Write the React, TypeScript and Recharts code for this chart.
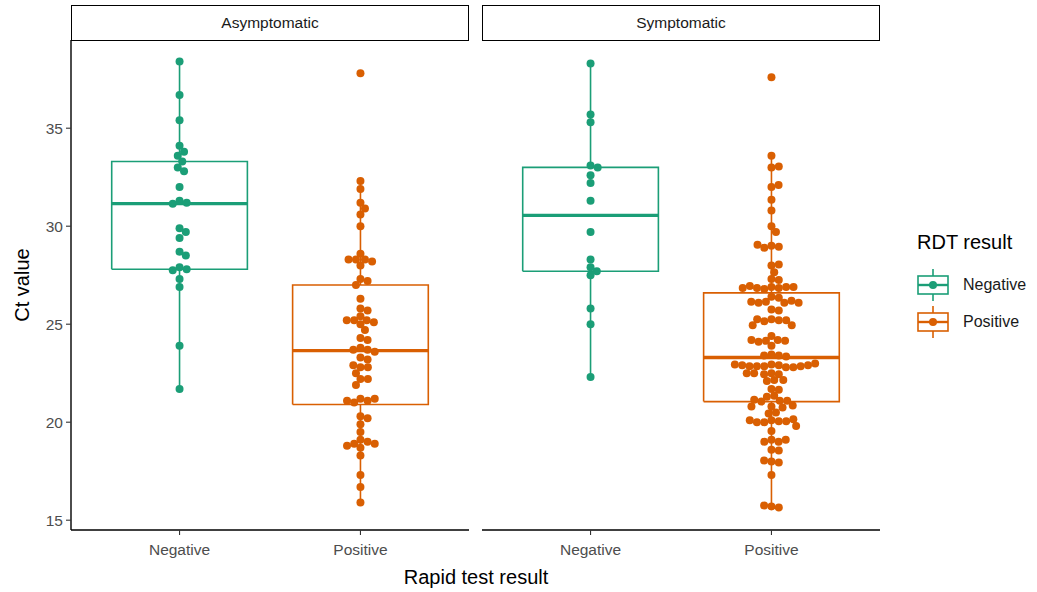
import { ScatterChart, Scatter, XAxis, YAxis } from "recharts";

const FONT = '"Liberation Sans", Arial, sans-serif';
const GREEN = "#1B9E77";
const ORANGE = "#D95F02";

const CATEGORIES = ["Negative", "Positive"];
const FACETS = ["Asymptomatic", "Symptomatic"];
const Y_TICKS = [15, 20, 25, 30, 35];

// Ct values
const asymNegative = [
  38.4, 36.7, 35.4, 34.1, 33.8, 33.6, 33.3, 33.0, 32.8, 32.0, 31.3, 31.2, 31.15,
  29.9, 29.7, 29.4, 28.7, 28.5, 27.9, 27.8, 27.75, 27.3, 26.9, 23.9, 21.7,
];
const asymPositive = [
  37.8, 32.3, 31.9, 31.2, 30.9, 30.6, 30.0, 28.6, 28.3, 28.3, 28.2, 28.3, 28.0,
  27.3, 27.2, 27.0, 26.3, 25.8, 25.7, 25.4, 25.2, 25.2, 25.1, 25.2, 25.0, 24.7,
  24.3, 24.2, 23.8, 23.7, 23.7, 23.6, 23.3, 23.2, 22.8, 22.8, 22.9, 22.5, 22.2,
  22.2, 21.9, 21.2, 21.1, 21.0, 21.1, 21.2, 20.3, 20.2, 19.9, 19.5, 19.1, 19.0,
  18.9, 18.8, 18.7, 18.9, 18.3, 17.3, 16.7, 15.9,
];
const symNegative = [
  38.3, 35.7, 35.3, 33.1, 33.0, 32.6, 32.2, 31.3, 29.7, 28.3, 27.9, 27.7, 27.5,
  25.8, 25.0, 22.3,
];
const symPositive = [
  37.6, 33.6, 33.0, 33.05, 32.0, 32.1, 31.35, 30.8, 30.0, 29.7, 29.0, 28.95,
  28.9, 29.05, 28.0, 28.05, 27.65, 27.3, 27.25, 26.9, 26.85, 26.8, 26.85, 26.9,
  26.95, 26.9, 26.85, 26.4, 26.35, 26.15, 26.1, 26.1, 26.15, 26.2, 26.1, 25.75,
  25.7, 25.25, 25.2, 25.15, 25.25, 25.2, 24.95, 24.95, 24.4, 24.2, 24.15, 24.1,
  24.15, 24.2, 23.9, 23.45, 23.4, 23.4, 23.35, 22.95, 22.9, 22.85, 22.85, 22.8,
  22.8, 22.85, 22.85, 22.9, 22.9, 22.95, 23.0, 22.5, 22.45, 22.45, 22.5, 22.5,
  22.15, 22.1, 22.15, 21.7, 21.65, 21.35, 21.3, 21.1, 21.05, 21.1, 21.15, 20.8,
  20.75, 20.8, 20.85, 20.5, 20.45, 20.1, 20.05, 20.0, 20.0, 20.05, 20.1, 20.15,
  19.8, 19.55, 19.1, 19.0, 19.0, 19.1, 18.6, 18.55, 18.0, 17.95, 18.05, 17.3,
  15.7, 15.65, 15.75,
];

// box stats per category (Negative, Positive)
const asymLower = [21.7, 15.9];
const asymQ1 = [27.8, 20.9];
const asymMedian = [31.15, 23.65];
const asymQ3 = [33.3, 27.0];
const asymUpper = [38.4, 32.3];
const symLower = [22.3, 15.7];
const symQ1 = [27.7, 21.05];
const symMedian = [30.55, 23.3];
const symQ3 = [33.0, 26.6];
const symUpper = [38.3, 33.6];

const X_DOMAIN = [0.4, 2.6];
const Y_DOMAIN = [14.5, 39.5];
const PLOT_W = 398;
const PLOT_H = 490;
const PX_X = PLOT_W / (X_DOMAIN[1] - X_DOMAIN[0]);
const PX_Y = PLOT_H / (Y_DOMAIN[1] - Y_DOMAIN[0]);
const DOT = 7.4;

function swarm(values: number[]) {
  const placed: { x: number; y: number }[] = [];
  return values.map((v) => {
    const y = v * PX_Y;
    const cands = [0];
    placed.forEach((p) => {
      const dy = Math.abs(p.y - y);
      if (dy < DOT) {
        const dx = Math.sqrt(DOT * DOT - dy * dy);
        cands.push(p.x + dx, p.x - dx);
      }
    });
    const ok = cands
      .filter((c) => placed.every((p) => Math.hypot(p.x - c, p.y - y) >= DOT - 1e-6))
      .sort((a, b) => Math.abs(a) - Math.abs(b));
    const x = ok[0] ?? 0;
    placed.push({ x, y });
    return x / PX_X;
  });
}

const noDot = () => <g />;

function boxParts(i: number, lo: number, q1: number, med: number, q3: number, hi: number, color: string) {
  const c = i + 1;
  const h = 0.375;
  return [
    <Scatter key={`wl${i}`} data={[{ x: c, y: lo }, { x: c, y: q1 }]} line={{ stroke: color, strokeWidth: 1.6 }} shape={noDot} isAnimationActive={false} />,
    <Scatter key={`wh${i}`} data={[{ x: c, y: q3 }, { x: c, y: hi }]} line={{ stroke: color, strokeWidth: 1.6 }} shape={noDot} isAnimationActive={false} />,
    <Scatter
      key={`b${i}`}
      data={[
        { x: c - h, y: q1 },
        { x: c + h, y: q1 },
        { x: c + h, y: q3 },
        { x: c - h, y: q3 },
        { x: c - h, y: q1 },
      ]}
      line={{ stroke: color, strokeWidth: 1.6 }}
      shape={noDot}
      isAnimationActive={false}
    />,
    <Scatter key={`m${i}`} data={[{ x: c - h, y: med }, { x: c + h, y: med }]} line={{ stroke: color, strokeWidth: 3.4 }} shape={noDot} isAnimationActive={false} />,
  ];
}

function Facet({
  left,
  showY,
  groups,
  lower,
  q1,
  median,
  q3,
  upper,
}: {
  left: number;
  showY: boolean;
  groups: number[][];
  lower: number[];
  q1: number[];
  median: number[];
  q3: number[];
  upper: number[];
}) {
  const colors = [GREEN, ORANGE];
  const yw = showY ? 71 : 0;
  return (
    <div style={{ position: "absolute", left: left - yw, top: 0 }}>
      <ScatterChart width={PLOT_W + yw + 1} height={570} margin={{ top: 40, right: 1, bottom: 0, left: 0 }}>
        <XAxis
          type="number"
          dataKey="x"
          domain={X_DOMAIN}
          ticks={[1, 2]}
          allowDataOverflow
          tickFormatter={(v: number) => CATEGORIES[v - 1]}
          height={40}
          axisLine={{ stroke: "#000", strokeWidth: 1.4 }}
          tickLine={{ stroke: "#333", strokeWidth: 1.1 }}
          tickSize={5}
          tickMargin={9}
          tick={{ fill: "#4D4D4D", fontSize: 15.5, fontFamily: FONT }}
        />
        <YAxis
          type="number"
          dataKey="y"
          domain={Y_DOMAIN}
          ticks={Y_TICKS}
          allowDataOverflow
          hide={!showY}
          width={yw}
          axisLine={{ stroke: "#000", strokeWidth: 1.4 }}
          tickLine={{ stroke: "#333", strokeWidth: 1.1 }}
          tickSize={5}
          tickMargin={3}
          tick={{ fill: "#4D4D4D", fontSize: 15.5, fontFamily: FONT }}
        />
        {groups.map((_, i) => boxParts(i, lower[i], q1[i], median[i], q3[i], upper[i], colors[i]))}
        {groups.map((vals, i) => {
          const off = swarm(vals);
          return (
            <Scatter
              key={`p${i}`}
              data={vals.map((v, k) => ({ x: i + 1 + off[k], y: v }))}
              shape={(p: any) => <circle cx={p.cx} cy={p.cy} r={4} fill={colors[i]} />}
              isAnimationActive={false}
            />
          );
        })}
      </ScatterChart>
    </div>
  );
}

function Strip({ left, label }: { left: number; label: string }) {
  return (
    <div
      style={{
        position: "absolute",
        left,
        top: 5,
        width: PLOT_W,
        height: 36,
        boxSizing: "border-box",
        border: "1.6px solid #000",
        background: "#fff",
        display: "flex",
        alignItems: "center",
        justifyContent: "center",
        fontSize: 15.5,
        color: "#1a1a1a",
      }}
    >
      {label}
    </div>
  );
}

function LegendKey({ color, label, top }: { color: string; label: string; top: number }) {
  return (
    <div style={{ position: "absolute", left: 916, top, display: "flex", alignItems: "center" }}>
      <svg width={34} height={34}>
        <line x1={17} y1={1} x2={17} y2={33} stroke={color} strokeWidth={1.6} />
        <rect x={2} y={8} width={30} height={18} fill="#fff" stroke={color} strokeWidth={1.6} />
        <line x1={2} y1={17} x2={32} y2={17} stroke={color} strokeWidth={2.4} />
        <circle cx={17} cy={17} r={4} fill={color} />
      </svg>
      <span style={{ marginLeft: 13, fontSize: 16, color: "#1a1a1a" }}>{label}</span>
    </div>
  );
}

export default function App() {
  return (
    <div
      style={{
        position: "absolute",
        left: 0,
        top: 0,
        width: 1037,
        height: 592,
        background: "#fff",
        fontFamily: FONT,
        overflow: "hidden",
      }}
    >
      <Facet
        left={71}
        showY
        groups={[asymNegative, asymPositive]}
        lower={asymLower}
        q1={asymQ1}
        median={asymMedian}
        q3={asymQ3}
        upper={asymUpper}
      />
      <Facet
        left={482}
        showY={false}
        groups={[symNegative, symPositive]}
        lower={symLower}
        q1={symQ1}
        median={symMedian}
        q3={symQ3}
        upper={symUpper}
      />
      <Strip left={71} label={FACETS[0]} />
      <Strip left={482} label={FACETS[1]} />
      <div
        style={{
          position: "absolute",
          left: 22,
          top: 285,
          transform: "translate(-50%, -50%) rotate(-90deg)",
          fontSize: 20,
          whiteSpace: "nowrap",
          color: "#000",
        }}
      >
        Ct value
      </div>
      <div
        style={{
          position: "absolute",
          left: 476,
          top: 577,
          transform: "translate(-50%, -50%)",
          fontSize: 20,
          whiteSpace: "nowrap",
          color: "#000",
        }}
      >
        Rapid test result
      </div>
      <div style={{ position: "absolute", left: 917, top: 231, fontSize: 20, color: "#000" }}>RDT result</div>
      <LegendKey color={GREEN} label={CATEGORIES[0]} top={268} />
      <LegendKey color={ORANGE} label={CATEGORIES[1]} top={305} />
    </div>
  );
}
